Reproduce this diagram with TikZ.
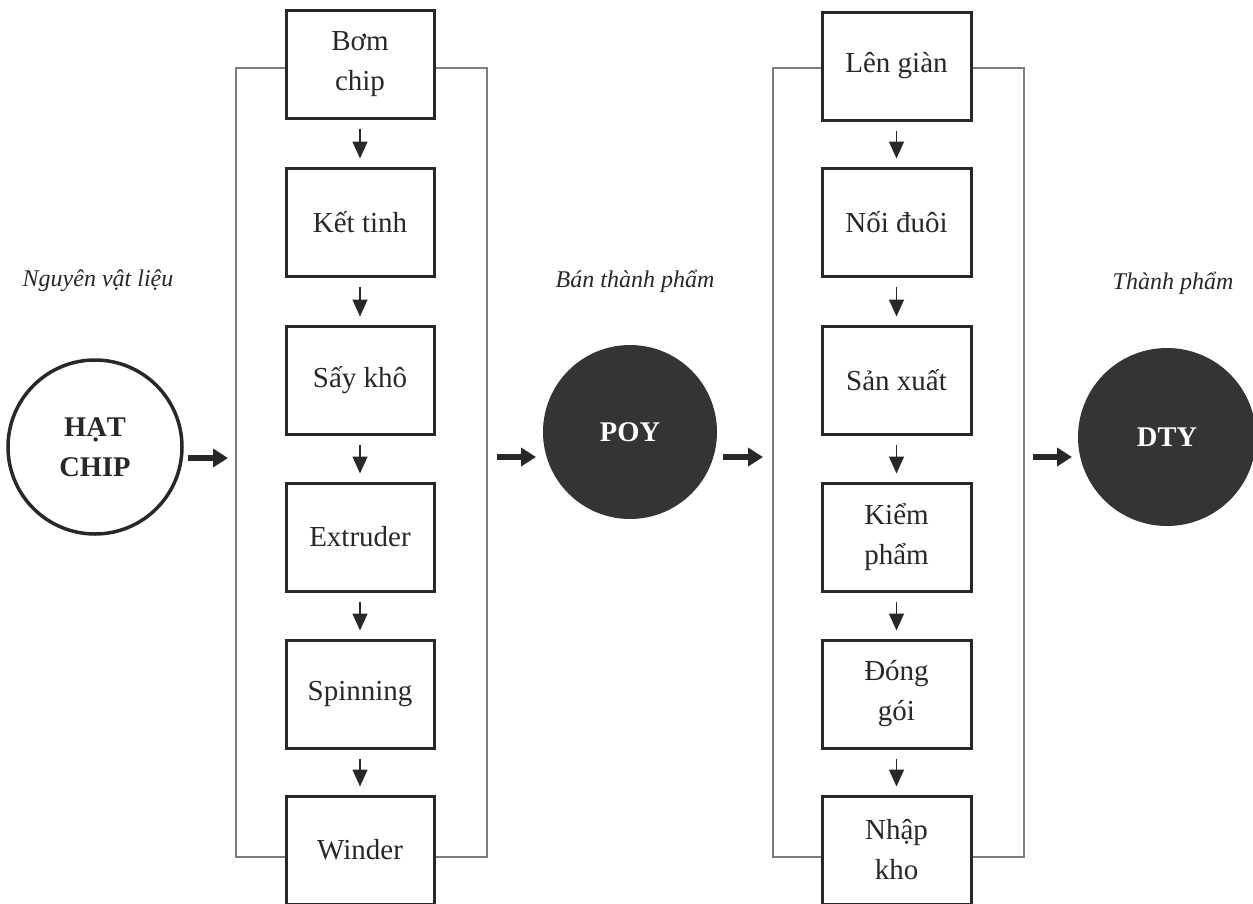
\documentclass[tikz,border=0pt]{standalone}
\usepackage{fontspec}
\setmainfont{Liberation Serif}
\usetikzlibrary{arrows.meta,calc}
\definecolor{ink}{RGB}{40,40,40}
\definecolor{fillc}{RGB}{52,52,52}
\definecolor{brkc}{RGB}{125,125,125}
\begin{document}
\begin{tikzpicture}[x=1pt,y=-1pt,
 box/.style={draw=ink,line width=3pt,minimum width=148pt,minimum height=108pt,inner sep=0pt,align=center,font=\fontsize{29}{40}\selectfont,text=ink},
 bracket/.style={draw=brkc,line width=2pt},
 darr/.style={draw=ink,fill=ink,line width=1.5pt,-{Triangle[width=15pt,length=17pt]},shorten <=9pt,shorten >=8pt},
 thk/.style={draw=ink,fill=ink,line width=6pt,-{Triangle[width=18pt,length=15pt]}},
 lab/.style={font=\fontsize{24}{28}\selectfont\itshape,text=ink},
 blob/.style={circle,fill=fillc,minimum size=174pt,inner sep=0pt,align=center,text=white,font=\fontsize{28.5}{40}\selectfont\bfseries}]
\path[fill=white] (0,0) rectangle (1253,903);
\useasboundingbox (0,0) rectangle (1253,903);

% left column
\node[box] (l1) at (360,64) {Bơm\\chip};
\node[box] (l2) at (360,222) {Kết tinh};
\node[box] (l3) at (360,380) {Sấy khô};
\node[box] (l4) at (360,537) {Extruder};
\node[box] (l5) at (360,694) {Spinning};
\node[box] (l6) at (360,850) {Winder};
% right column
\node[box,minimum width=149pt] (r1) at (896.5,66) {Lên giàn};
\node[box,minimum width=149pt] (r2) at (896.5,222) {Nối đuôi};
\node[box,minimum width=149pt] (r3) at (896.5,380) {Sản xuất};
\node[box,minimum width=149pt] (r4) at (896.5,537) {Kiểm\\phẩm};
\node[box,minimum width=149pt] (r5) at (896.5,694) {Đóng\\gói};
\node[box,minimum width=149pt] (r6) at (896.5,850) {Nhập\\kho};

\foreach \a/\b in {l1/l2,l2/l3,l3/l4,l4/l5,l5/l6,r1/r2,r2/r3,r3/r4,r4/r5,r5/r6}
  \draw[darr] (\a) -- (\b);

% brackets
\draw[bracket] (l1.west |- 0,68) -- (236,68) -- (236,857) -- (l6.west |- 0,857);
\draw[bracket] (l1.east |- 0,68) -- (487,68) -- (487,857) -- (l6.east |- 0,857);
\draw[bracket] (r1.west |- 0,68) -- (773,68) -- (773,857) -- (r6.west |- 0,857);
\draw[bracket] (r1.east |- 0,68) -- (1024,68) -- (1024,857) -- (r6.east |- 0,857);

% labels
\node[lab] (lnv) at (98,281) {Nguyên vật liệu};
\node[lab] (lbt) at (635,281) {Bán thành phẩm};
\node[lab] (ltp) at (1173,283) {Thành phẩm};

% circles
\node[circle,draw=ink,line width=3.5pt,fill=white,minimum size=174pt,inner sep=0pt,align=center,text=ink,font=\fontsize{28.5}{40}\selectfont\bfseries] (hat) at (95,447) {HẠT\\CHIP};
\node[blob] (poy) at (630,432) {POY};
\node[blob,minimum size=178pt] (dty) at (1167,437) {DTY};

% thick arrows
\coordinate (a1s) at (188,458);
\coordinate (a1e) at (228,458);
\coordinate (a2s) at (497,457);
\coordinate (a2e) at (536,457);
\coordinate (a3s) at (723,457);
\coordinate (a3e) at (763,457);
\coordinate (a4s) at (1033,457);
\coordinate (a4e) at (1072,457);
\draw[thk] (a1s) -- (a1e);
\draw[thk] (a2s) -- (a2e);
\draw[thk] (a3s) -- (a3e);
\draw[thk] (a4s) -- (a4e);
\end{tikzpicture}
\end{document}
